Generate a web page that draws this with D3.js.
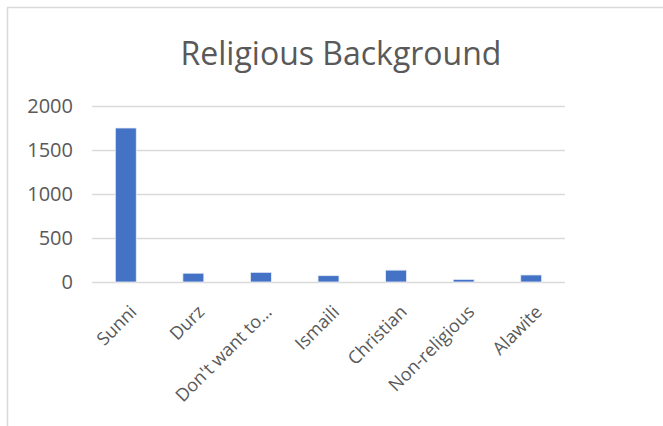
<!DOCTYPE html>
<html>
<head>
<meta charset="utf-8">
<script src="https://cdn.jsdelivr.net/npm/d3@7"></script>
<style>
  html, body { margin: 0; padding: 0; background: #fff; }
  svg { display: block; }
  text { font-family: "Open Sans", "Noto Sans", sans-serif; fill: #595959; }
</style>
</head>
<body>
<svg id="chart" width="663" height="426"></svg>
<script>
// Respondents by religious background
const categories = ["Sunni", "Durz", "Don't want to…", "Ismaili", "Christian", "Non-religious", "Alawite"];
const counts = [1750, 100, 110, 72, 135, 30, 80];
const yTicks = [0, 500, 1000, 1500, 2000];
const title = "Religious Background";

const svg = d3.select("#chart");
const W = 663, H = 426;

// chart frame (only top and left edges fall inside the view)
svg.append("rect")
  .attr("x", 7.5).attr("y", 7.5)
  .attr("width", W + 10).attr("height", H + 10)
  .attr("fill", "#fff")
  .attr("stroke", "#d9d9d9").attr("stroke-width", 1.5);

const plot = { left: 92, right: 565, top: 106, bottom: 282 };

const x = d3.scaleBand()
  .domain(categories)
  .range([plot.left, plot.right])
  .paddingInner(0.69)
  .paddingOuter(0.345);

const y = d3.scaleLinear()
  .domain([0, 2000])
  .range([plot.bottom, plot.top]);

// title
svg.append("text")
  .attr("x", 341)
  .attr("y", 65)
  .attr("text-anchor", "middle")
  .attr("font-size", 32)
  .text(title);

// gridlines and y labels
const yAxis = d3.axisLeft(y)
  .tickValues(yTicks)
  .tickFormat(d3.format("d"))
  .tickSize(-(plot.right - plot.left))
  .tickPadding(19);

const gy = svg.append("g")
  .attr("transform", `translate(${plot.left},0)`)
  .call(yAxis);
gy.select(".domain").remove();
gy.selectAll(".tick line").attr("stroke", "#d9d9d9").attr("stroke-width", 1.5);
gy.selectAll(".tick text")
  .attr("font-size", 20)
  .attr("fill", "#595959")
  .style("font-family", "'Open Sans', sans-serif");

// bars
svg.append("g").selectAll("rect")
  .data(categories)
  .join("rect")
  .attr("x", d => x(d))
  .attr("width", x.bandwidth())
  .attr("y", (d, i) => y(counts[i]))
  .attr("height", (d, i) => y(0) - y(counts[i]))
  .attr("fill", "#4472c4")
  .attr("stroke", "#e8eef8")
  .attr("stroke-width", 0.8);

// category labels, rotated
svg.append("g").selectAll("text")
  .data(categories)
  .join("text")
  .attr("transform", d => `translate(${x(d) + x.bandwidth() / 2 + 12},${plot.bottom + 31}) rotate(-45)`)
  .attr("text-anchor", "end")
  .attr("font-size", 18)
  .text(d => d);
</script>
</body>
</html>
